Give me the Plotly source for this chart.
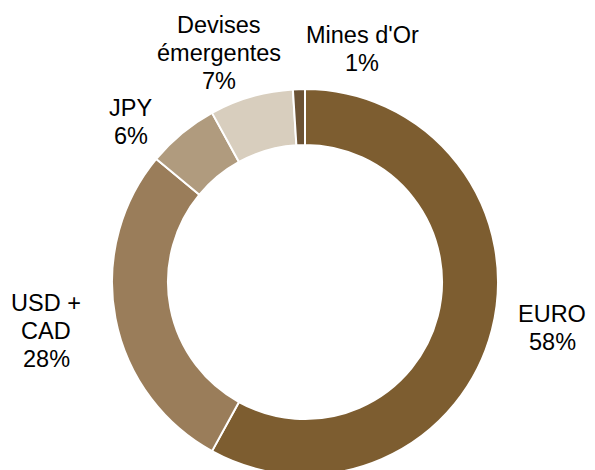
import plotly.graph_objects as go

labels = ["EURO", "USD + CAD", "JPY", "Devises émergentes", "Mines d'Or"]
label_lines = [["EURO"], ["USD +", "CAD"], ["JPY"], ["Devises", "émergentes"], ["Mines d'Or"]]
values = [58, 28, 6, 7, 1]
colors = ["#7D5D30", "#9A7D5A", "#B09B7E", "#D8CEBE", "#6B5234"]

# label first-line centres in reference pixel coords (top-left of 595x470 view)
label_pos = [(552, 314), (46, 303), (131, 108), (219, 25), (362, 35)]
LINE_STEP = 28

# page body has an 8px default margin; compensate
OFF = 8
W, H = 595, 500
CX, CY, R = 305 - OFF, 282 - OFF, 193

fig = go.Figure(go.Pie(
    labels=labels,
    values=values,
    sort=False,
    direction="clockwise",
    rotation=0,
    hole=0.71,
    marker=dict(colors=colors, line=dict(color="white", width=2)),
    textinfo="none",
    hoverinfo="label+percent",
    domain=dict(x=[(CX - R) / W, (CX + R) / W],
                y=[(H - CY - R) / H, (H - CY + R) / H]),
    showlegend=False,
))

font = dict(family="Liberation Sans, Arial, sans-serif", size=23.5, color="#000000")
for lines, val, (px, py) in zip(label_lines, values, label_pos):
    for i, line in enumerate(lines + [f"{val}%"]):
        yy = py + i * LINE_STEP - OFF
        fig.add_annotation(
            x=(px - OFF) / W, y=1 - yy / H, xref="paper", yref="paper",
            text=line, showarrow=False,
            xanchor="center", yanchor="middle", align="center",
            font=font,
        )

fig.update_layout(
    width=W, height=H,
    margin=dict(l=0, r=0, t=0, b=0),
    paper_bgcolor="white",
    plot_bgcolor="white",
)

fig.write_html("out.html")
